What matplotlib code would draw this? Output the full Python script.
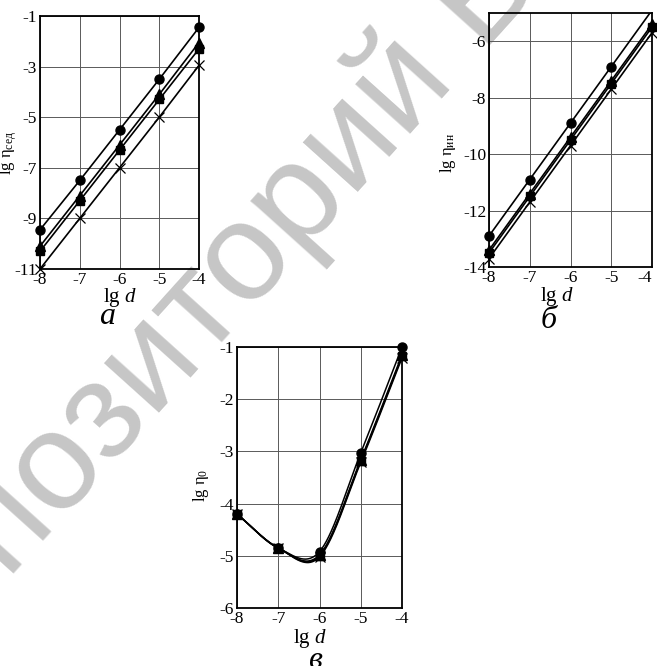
import numpy as np
import matplotlib
matplotlib.use("Agg")
import matplotlib.pyplot as plt

plt.rcParams["font.family"] = ["Liberation Serif", "DejaVu Serif"]
plt.rcParams["mathtext.fontset"] = "custom"
plt.rcParams["mathtext.rm"] = "Liberation Serif"
plt.rcParams["mathtext.it"] = "Liberation Serif:italic"
plt.rcParams["axes.unicode_minus"] = False

# lg d, common for all panels
lg_d = [-8, -7, -6, -5, -4]

# (а) sedimentation
sed_circle = [-9.45, -7.5, -5.5, -3.5, -1.45]
sed_tri = [-10.1, -8.1, -6.1, -4.1, -2.05]
sed_square = [-10.3, -8.3, -6.3, -4.3, -2.3]
sed_cross = [-11.0, -9.0, -7.0, -5.0, -2.95]

# (б) inertial
in_circle = [-12.9, -10.9, -8.9, -6.9, -4.9]
in_tri = [-13.4, -11.4, -9.4, -7.4, -5.4]
in_square = [-13.5, -11.5, -9.5, -7.5, -5.5]
in_cross = [-13.7, -11.7, -9.7, -7.7, -5.7]

# (в) total
tot_circle = [-4.2, -4.85, -4.92, -3.03, -1.0]
tot_tri = [-4.2, -4.85, -4.98, -3.16, -1.15]
tot_square = [-4.2, -4.85, -5.0, -3.18, -1.18]
tot_cross = [-4.2, -4.85, -5.02, -3.21, -1.21]

W, H = 657, 666
fig = plt.figure(figsize=(W / 100, H / 100), dpi=100)


def rect(l, r, t, b):
    return [l / W, 1 - b / H, (r - l) / W, (b - t) / H]


def catmull_rom(x, y, xs):
    x = np.asarray(x, float); y = np.asarray(y, float)
    m = np.gradient(y, x)
    k = np.clip(np.searchsorted(x, xs) - 1, 0, len(x) - 2)
    h = x[k + 1] - x[k]
    t = (xs - x[k]) / h
    h00 = 2 * t**3 - 3 * t**2 + 1
    h10 = t**3 - 2 * t**2 + t
    h01 = -2 * t**3 + 3 * t**2
    h11 = t**3 - t**2
    return h00 * y[k] + h10 * h * m[k] + h01 * y[k + 1] + h11 * h * m[k + 1]


markers = [("x", 6.5, 0.9), ("s", 5.5, 1), ("^", 6.5, 1), ("o", 6.5, 1)]


def panel(r, ylim, yticks, series, ylab, lab_xy, xlab_xy, smooth=False):
    ax = fig.add_axes(rect(*r))
    ax.set_facecolor("none")
    ax.set_xlim(-8, -4); ax.set_ylim(*ylim)
    ax.set_xticks(lg_d); ax.set_yticks(yticks)
    ax.grid(True, color="0.35", lw=0.7)
    ax.tick_params(length=0, pad=2, labelsize=12.5)
    for s in ax.spines.values():
        s.set_linewidth(1.3)
    for ys, (m, ms, mew) in zip(series, markers):
        ys = np.asarray(ys)
        if smooth:
            xs = np.linspace(-8, -4, 300)
            ax.plot(xs, catmull_rom(lg_d, ys, xs), c="k", lw=1.1)
        else:
            ax.plot(lg_d, ys, c="k", lw=1.2)
        keep = ys <= ylim[1] + 0.05
        ax.plot(np.array(lg_d)[keep], ys[keep], ls="none", marker=m, ms=ms,
                mew=mew, c="k", clip_on=False, zorder=3)
    ax.set_ylabel(ylab, fontsize=12)
    ax.yaxis.set_label_coords(*lab_xy)
    ax.set_xlabel(r"lg $\mathit{d}$", fontsize=15)
    ax.xaxis.set_label_coords(*xlab_xy)
    return ax


panel((40, 199, 16, 269), (-11, -1), range(-11, 0, 2),
      [sed_cross, sed_square, sed_tri, sed_circle],
      r"lg $\mathrm{η}_{\mathrm{сед}}$", (-0.13, 0.46), (0.5, -0.067))
axb = panel((489, 652, 13, 267), (-14, -5), range(-14, -5, 2),
            [in_cross, in_square, in_tri, in_circle],
            r"lg $\mathrm{η}_{\mathrm{ин}}$", (-0.19, 0.45), (0.42, -0.071))
axb.get_xticklabels()[-1].set_horizontalalignment("right")
panel((237, 402, 347, 608), (-6, -1), range(-6, 0),
      [tot_cross, tot_square, tot_tri, tot_circle],
      r"lg $\mathrm{η}_{0}$", (-0.16, 0.47), (0.44, -0.073), smooth=True)

for s, x, y in [("а", 107, 317), ("б", 549, 320), ("в", 315, 660)]:
    fig.text(x / W, 1 - y / H, s, fontsize=23, style="italic", ha="center", va="center")

# watermark sits beneath the axes
fig.text(248 / W, 1 - 258 / H, "Репозиторий БГУ", family="Liberation Sans",
         fontsize=101, color="#c6c6c6", rotation=48, rotation_mode="anchor",
         ha="center", va="center", zorder=-1)

fig.savefig("out.png", dpi=100)
